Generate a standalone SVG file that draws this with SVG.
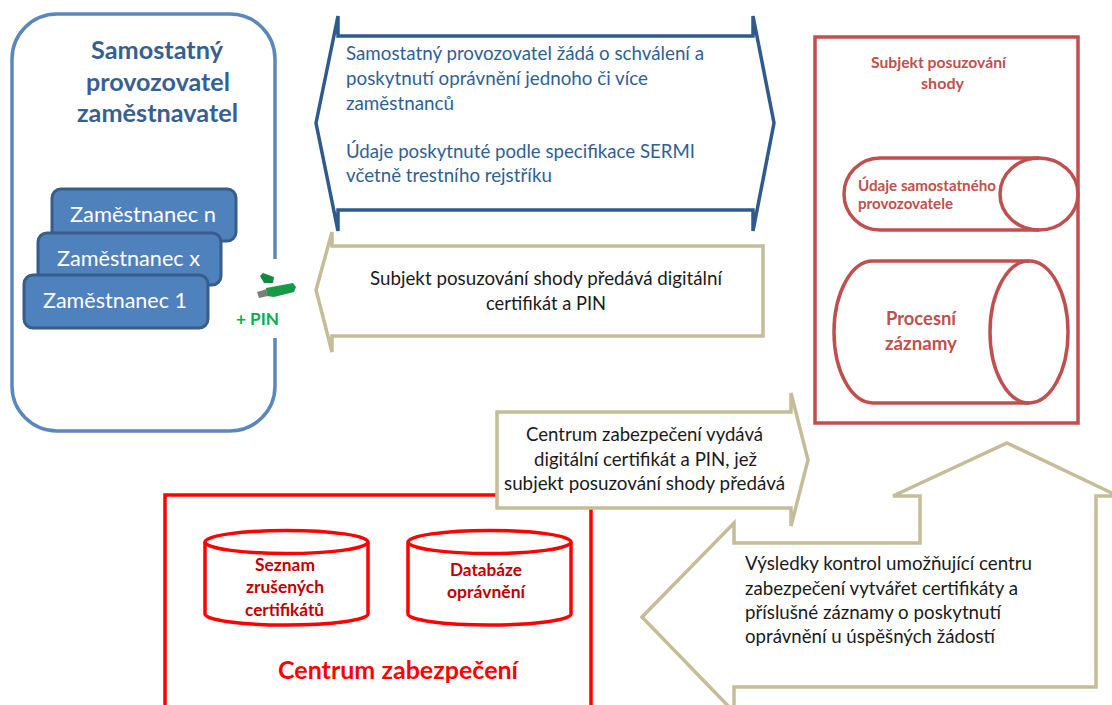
<svg xmlns="http://www.w3.org/2000/svg" width="1112" height="705" viewBox="0 0 1112 705">
<style>
text{font-family:Lato,"Liberation Sans",sans-serif}
.emp rect{fill:#4f81bd;stroke:#385d8a;stroke-width:3}
.emp text{fill:#fff;font-size:22px}
.tan{fill:#fff;stroke:#c4bd97;stroke-width:3.500;stroke-linejoin:miter}
.blk{fill:#1a1a1a;font-size:19px}
.blu{fill:#2f5f95;font-size:19px}
.rs{fill:none;stroke:#c0504d;stroke-width:3.500}
.rt{fill:#c0504d;font-weight:700}
.db{fill:#fff;stroke:#f00;stroke-width:3.500}
.dt{fill:#c00000;font-weight:700;font-size:16.500px}
.ti{fill:#376092;font-weight:700;font-size:24px}
</style>
<rect width="1112" height="705" fill="#fff"/>
<g id="operator">
<path d="M275 259V59A45 45 0 0 0 230 14H57A45 45 0 0 0 12 59V386A45 45 0 0 0 57 431H230A45 45 0 0 0 275 386V338" fill="none" stroke="#5b87bd" stroke-width="3.500"/>
<text class="ti" x="91" y="59" textLength="132" lengthAdjust="spacingAndGlyphs">Samostatný</text>
<text class="ti" x="86" y="91" textLength="144" lengthAdjust="spacingAndGlyphs">provozovatel</text>
<text class="ti" x="77" y="122" textLength="161" lengthAdjust="spacingAndGlyphs">zaměstnavatel</text>
</g>
<g id="emp-n" class="emp"><rect x="52" y="189" width="184" height="52" rx="9"/><text x="70" y="222" textLength="146" lengthAdjust="spacingAndGlyphs">Zaměstnanec n</text></g>
<g id="emp-x" class="emp"><rect x="38" y="233" width="183" height="52" rx="9"/><text x="57" y="266" textLength="143" lengthAdjust="spacingAndGlyphs">Zaměstnanec x</text></g>
<g id="emp-1" class="emp"><rect x="24" y="275" width="184" height="53" rx="9"/><text x="43" y="308" textLength="144" lengthAdjust="spacingAndGlyphs">Zaměstnanec 1</text></g>
<g id="usb">
<path d="M260 276L263 273L274 277L273 283L264 283Z" fill="#128a3c"/>
<path d="M266 288L293 283L296 287L294 292L274 297L267 296Z" fill="#169a45"/>
<path d="M257 292L267 289L268 296L259 298Z" fill="#77807a"/>
<text x="236" y="325" fill="#00b050" font-weight="700" font-size="17" textLength="43" lengthAdjust="spacingAndGlyphs">+ PIN</text>
</g>
<g id="connectors">
<path d="M316 123L338 16V36H753V16L774 123L753 231V210H338V231Z" fill="#fff" stroke="#2f5a8f" stroke-width="3.500"/>
<path class="tan" d="M316 290L332 232V246H763V336H332V352Z"/>
<path class="tan" d="M642 617L734 523V543H920V496H893L1007 443L1118 496H1096V687H734V712Z"/>
</g>
<g id="request-text">
<text class="blu" x="346" y="60" textLength="358" lengthAdjust="spacingAndGlyphs">Samostatný provozovatel žádá o schválení a</text>
<text class="blu" x="346" y="85" textLength="302" lengthAdjust="spacingAndGlyphs">poskytnutí oprávnění jednoho či více</text>
<text class="blu" x="346" y="110" textLength="108" lengthAdjust="spacingAndGlyphs">zaměstnanců</text>
<text class="blu" x="346" y="158" textLength="349" lengthAdjust="spacingAndGlyphs">Údaje poskytnuté podle specifikace SERMI</text>
<text class="blu" x="346" y="182" textLength="206" lengthAdjust="spacingAndGlyphs">včetně trestního rejstříku</text>
</g>
<g id="handover-text">
<text class="blk" x="370" y="285" textLength="352" lengthAdjust="spacingAndGlyphs">Subjekt posuzování shody předává digitální</text>
<text class="blk" x="486" y="310" textLength="120" lengthAdjust="spacingAndGlyphs">certifikát a PIN</text>
</g>
<g id="results-text">
<text class="blk" x="745" y="570" textLength="287" lengthAdjust="spacingAndGlyphs">Výsledky kontrol umožňující centru</text>
<text class="blk" x="745" y="595" textLength="273" lengthAdjust="spacingAndGlyphs">zabezpečení vytvářet certifikáty a</text>
<text class="blk" x="745" y="619" textLength="256" lengthAdjust="spacingAndGlyphs">příslušné záznamy o poskytnutí</text>
<text class="blk" x="745" y="643" textLength="250" lengthAdjust="spacingAndGlyphs">oprávnění u úspěšných žádostí</text>
</g>
<g id="assessment-body">
<rect x="815" y="37" width="263" height="386" fill="none" stroke="#c0504d" stroke-width="3.500"/>
<text class="rt" x="871" y="68" font-size="15" textLength="135" lengthAdjust="spacingAndGlyphs">Subjekt posuzování</text>
<text class="rt" x="921" y="89" font-size="15" textLength="43" lengthAdjust="spacingAndGlyphs">shody</text>
</g>
<g id="operator-data">
<path class="rs" d="M1039 158H880A36 36 0 0 0 880 230H1039"/>
<ellipse class="rs" cx="1039" cy="194" rx="39" ry="36"/>
<text class="rt" x="858" y="191" font-size="15" textLength="138" lengthAdjust="spacingAndGlyphs">Údaje samostatného</text>
<text class="rt" x="858" y="209" font-size="15" textLength="95" lengthAdjust="spacingAndGlyphs">provozovatele</text>
</g>
<g id="process-records">
<path class="rs" d="M1029 261H873A39 71 0 0 0 873 403H1029"/>
<ellipse class="rs" cx="1029" cy="332" rx="39" ry="71"/>
<text class="rt" x="886" y="325" font-size="19" textLength="70" lengthAdjust="spacingAndGlyphs">Procesní</text>
<text class="rt" x="885" y="350" font-size="19" textLength="72" lengthAdjust="spacingAndGlyphs">záznamy</text>
</g>
<g id="security-centre">
<path d="M165 712V495H591V712" fill="none" stroke="#f00" stroke-width="3.500"/>
<text x="278" y="679" fill="#f00" font-weight="700" font-size="25" textLength="240" lengthAdjust="spacingAndGlyphs">Centrum zabezpečení</text>
</g>
<g id="revoked-list">
<path class="db" d="M205 542V614C205 620 240 625 286 625S368 620 368 614V542"/>
<ellipse class="db" cx="286.500" cy="542" rx="81.500" ry="11.500"/>
<text class="dt" x="255" y="571" textLength="60" lengthAdjust="spacingAndGlyphs">Seznam</text>
<text class="dt" x="246" y="593" textLength="78" lengthAdjust="spacingAndGlyphs">zrušených</text>
<text class="dt" x="245" y="616" textLength="79" lengthAdjust="spacingAndGlyphs">certifikátů</text>
</g>
<g id="permissions-db">
<path class="db" d="M408 542V614C408 620 443 625 489 625S571 620 571 614V542"/>
<ellipse class="db" cx="489.500" cy="542" rx="81.500" ry="11.500"/>
<text class="dt" x="450" y="576" textLength="72" lengthAdjust="spacingAndGlyphs">Databáze</text>
<text class="dt" x="447" y="598" textLength="78" lengthAdjust="spacingAndGlyphs">oprávnění</text>
</g>
<g id="issue-arrow">
<path class="tan" d="M497 412V508H791V526L808 460L791 393V412Z"/>
<text class="blk" x="526" y="441" textLength="237" lengthAdjust="spacingAndGlyphs">Centrum zabezpečení vydává</text>
<text class="blk" x="534" y="466" textLength="223" lengthAdjust="spacingAndGlyphs">digitální certifikát a PIN, jež</text>
<text class="blk" x="504" y="490" textLength="281" lengthAdjust="spacingAndGlyphs">subjekt posuzování shody předává</text>
</g>
</svg>
